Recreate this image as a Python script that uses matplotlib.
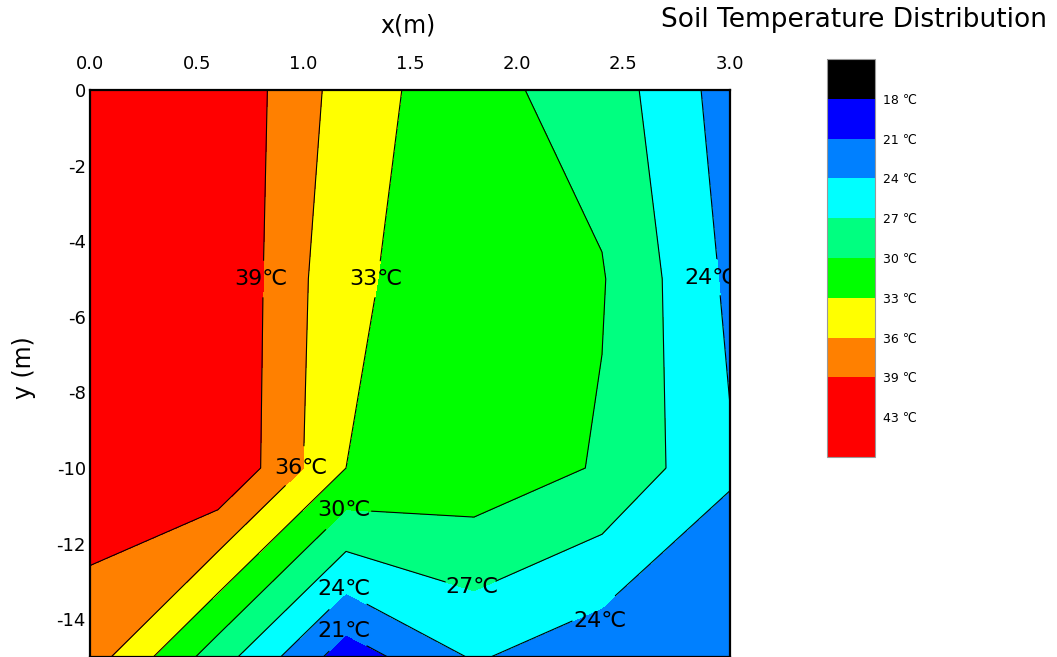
"""Soil temperature distribution as a filled contour map."""

import numpy as np
import matplotlib.pyplot as plt
import matplotlib as mpl
from matplotlib.colors import ListedColormap, BoundaryNorm

plt.rcParams['font.family'] = ['DejaVu Sans']
plt.rcParams['axes.unicode_minus'] = False

# measurement grid (m) and temperatures (degC), one list per depth row
x_pos = [0.0, 0.6, 1.2, 1.8, 2.4, 3.0]
y_pos = [0, -5, -10, -15]
temp_y0 = [43.0, 41.7, 34.7, 30.8, 28.8, 22.6]
temp_y5 = [42.5, 42.0, 33.5, 31.5, 30.2, 23.4]
temp_y10 = [40.6, 42.0, 33.0, 32.0, 29.7, 24.3]
temp_y15 = [37.5, 28.4, 19.4, 24.3, 22.0, 21.8]

levels = [15, 18, 21, 24, 27, 30, 33, 36, 39, 50]
line_levels = [21, 24, 27, 30, 33, 36, 39]
band_colors = ['#000000', '#0000FF', '#0080FF', '#00FFFF', '#00FF80',
               '#00FF00', '#FFFF00', '#FF8000', '#FF0000']

# colorbar boxes
cbar_bounds = [15, 18, 21, 24, 27, 30, 33, 36, 39, 43, 47]
cbar_ticks = [18, 21, 24, 27, 30, 33, 36, 39, 43]

# contour labels placed by hand, gap_fs sets how much line is cut away
label_levels = [39, 33, 24, 36, 30, 24, 21, 27, 24]
label_x = [0.80, 1.34, 2.91, 0.99, 1.19, 1.19, 1.19, 1.79, 2.39]
label_y = [-5.0, -5.0, -4.97, -10.0, -11.1, -13.2, -14.3, -13.15, -14.05]
gap_fs = [11, 11, 11, 14, 16, 14, 14, 16, 15]

X, Y = np.meshgrid(x_pos, y_pos)
Z = np.array([temp_y0, temp_y5, temp_y10, temp_y15])

fig = plt.figure(figsize=(10.57, 6.57), dpi=100)
ax = fig.add_axes([90 / 1057, 0, 640 / 1057, 567 / 657])
ax.set_xlim(0, 3)
ax.set_ylim(-15, 0)

ax.contourf(X, Y, Z, levels=levels, colors=band_colors)
# one contour set per level so each can be cut under its own label
line_sets = {lev: ax.contour(X, Y, Z, levels=[lev], colors='black',
                             linewidths=0.8)
             for lev in line_levels}

for lev, lx, ly, fs in zip(label_levels, label_x, label_y, gap_fs):
    cs = line_sets[lev]
    txts = cs.clabel([lev], manual=[(lx, ly)], inline=True, fontsize=fs,
                     fmt={lev: f'{lev}\u2103'}, inline_spacing=0)
    for t in list(txts):
        t.remove()
    cs.labelTexts.clear()
    ax.text(lx, ly, f'{lev}\u2103', fontsize=16, ha='center', va='center',
            clip_on=True, zorder=5)

ax.xaxis.tick_top()
ax.xaxis.set_label_position('top')
ax.set_xticks(np.arange(0, 3.01, 0.5))
ax.set_xticklabels([f'{v:.1f}' for v in np.arange(0, 3.01, 0.5)])
ax.set_yticks(np.arange(0, -15, -2))
ax.tick_params(axis='x', length=0, pad=12, labelsize=13)
ax.tick_params(axis='y', length=0, pad=3, labelsize=13)
ax.set_xlabel('x(m)', fontsize=17, va='center')
ax.xaxis.set_label_coords(0.497, 1 + 65 / 567)
ax.set_ylabel('y (m)', fontsize=17, va='center')
ax.yaxis.set_label_coords(-0.103, 0.511)
for sp in ax.spines.values():
    sp.set_linewidth(1.6)

fig.text(661 / 1057, 1 - 20 / 657, 'Soil Temperature Distribution',
         fontsize=19, ha='left', va='center')

# colorbar, low values on top
cax = fig.add_axes([827 / 1057, 200 / 657, 48 / 1057, 398 / 657])
cmap = ListedColormap(band_colors + ['#FF0000'])
norm = BoundaryNorm(cbar_bounds, cmap.N)
cb = fig.colorbar(mpl.cm.ScalarMappable(norm=norm, cmap=cmap), cax=cax,
                  boundaries=cbar_bounds, ticks=cbar_ticks, spacing='uniform')
cax.invert_yaxis()
cax.minorticks_off()
cb.set_ticklabels([f'{t} \u2103' for t in cbar_ticks])
cax.tick_params(which='both', length=0, pad=6, labelsize=9)
cb.outline.set_edgecolor('#999999')
cb.outline.set_linewidth(0.8)

fig.savefig('out.png', dpi=100)
